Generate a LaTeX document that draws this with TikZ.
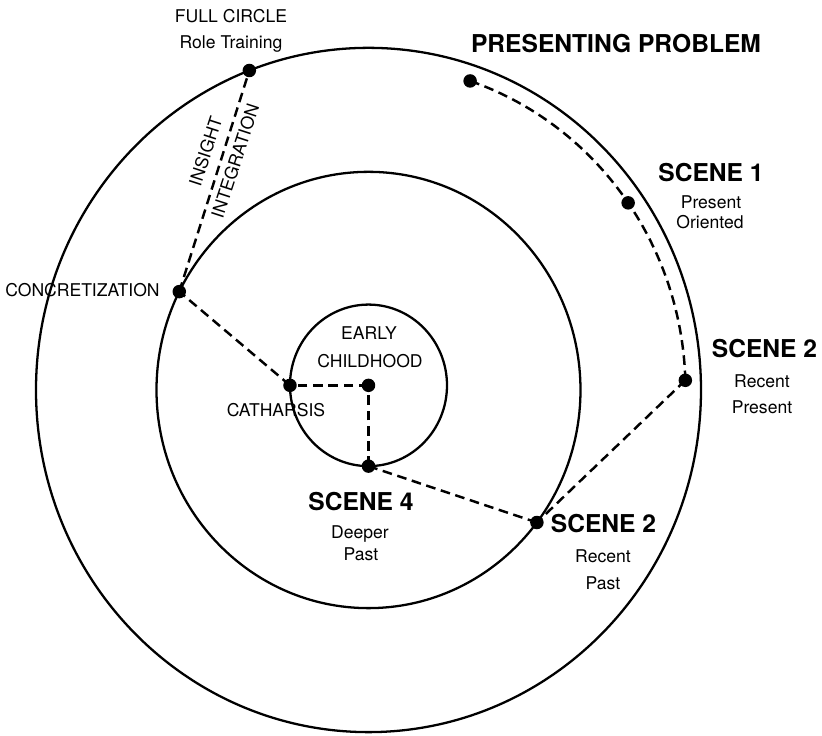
\documentclass[tikz,border=0pt]{standalone}
\usepackage{fontspec}
\setmainfont{TeX Gyre Heros}
\usepackage{tikz}

\begin{document}
\begin{tikzpicture}[yscale=1.029,
    every node/.style={font=\fontsize{10}{12}\selectfont},
    ring/.style={line width=1.3pt},
    link/.style={line width=1.4pt, dash pattern=on 5.5pt off 3.2pt},
    dot/.style={circle, fill=black, inner sep=0pt, minimum size=0.27cm},
    head/.style={font=\fontsize{14}{16}\selectfont\bfseries}]
  \useasboundingbox (-7.37,-6.706) rectangle (9.07,7.58);
  % rings: outer, middle, early childhood
  \draw[ring] (0,0) circle (6.65);
  \draw[ring] (0,0) circle (4.24);
  \draw[ring] (0,0.09) circle (1.57);
  % stations on the rings
  \coordinate (full) at (111:6.65);
  \coordinate (prob) at (71.3:6.34);
  \coordinate (sc1) at (35:6.34);
  \coordinate (sc2top) at (1.7:6.34);
  \coordinate (sc2low) at (-37.4:4.24);
  \coordinate (concr) at (153.2:4.24);
  \coordinate (cath) at (-1.57,0.09);
  \coordinate (early) at (0,0.09);
  \coordinate (sc4) at (0,-1.48);
  % the journey
  \draw[link] (prob) arc[start angle=71.3, end angle=1.7, radius=6.34];
  \draw[link] (sc2top) -- (sc2low);
  \draw[link] (sc2low) -- (sc4);
  \draw[link] (sc4) -- (early);
  \draw[link] (early) -- (cath);
  \draw[link] (cath) -- (concr);
  \draw[link] (concr) -- (full)
    node[pos=0.61, sloped, above=2pt] (insight) {INSIGHT}
    node[pos=0.61, sloped, below] (integr) {INTEGRATION};
  \foreach \p in {full,prob,sc1,sc2top,sc2low,concr,cath,early,sc4} {
    \node[dot] at (\p) {};
  }
  % labels
  \node (fullA) at (-2.75,7.26) {FULL CIRCLE};
  \node (fullB) at (-2.75,6.715) {Role Training};
  \node[head] (probA) at (4.95,6.725) {PRESENTING PROBLEM};
  \node[head] (sc1A) at (6.85,4.227) {SCENE 1};
  \node (sc1B) at (6.85,3.64) {Present};
  \node (sc1C) at (6.83,3.271) {Oriented};
  \node[head] (sc2A) at (7.92,0.797) {SCENE 2};
  \node (sc2B) at (7.87,0.175) {Recent};
  \node (sc2C) at (7.87,-0.33) {Present};
  \node[head] (sc3A) at (4.70,-2.604) {SCENE 2};
  \node (sc3B) at (4.69,-3.226) {Recent};
  \node (sc3C) at (4.69,-3.751) {Past};
  \node[head] (sc4A) at (-0.15,-2.177) {SCENE 4};
  \node (sc4B) at (-0.17,-2.799) {Deeper};
  \node (sc4C) at (-0.15,-3.188) {Past};
  \node (cathA) at (-1.85,-0.389) {CATHARSIS};
  \node (earlyA) at (0.01,1.108) {EARLY};
  \node (earlyB) at (0.03,0.564) {CHILDHOOD};
  \node (concrA) at (-5.72,1.944) {CONCRETIZATION};
\end{tikzpicture}
\end{document}
